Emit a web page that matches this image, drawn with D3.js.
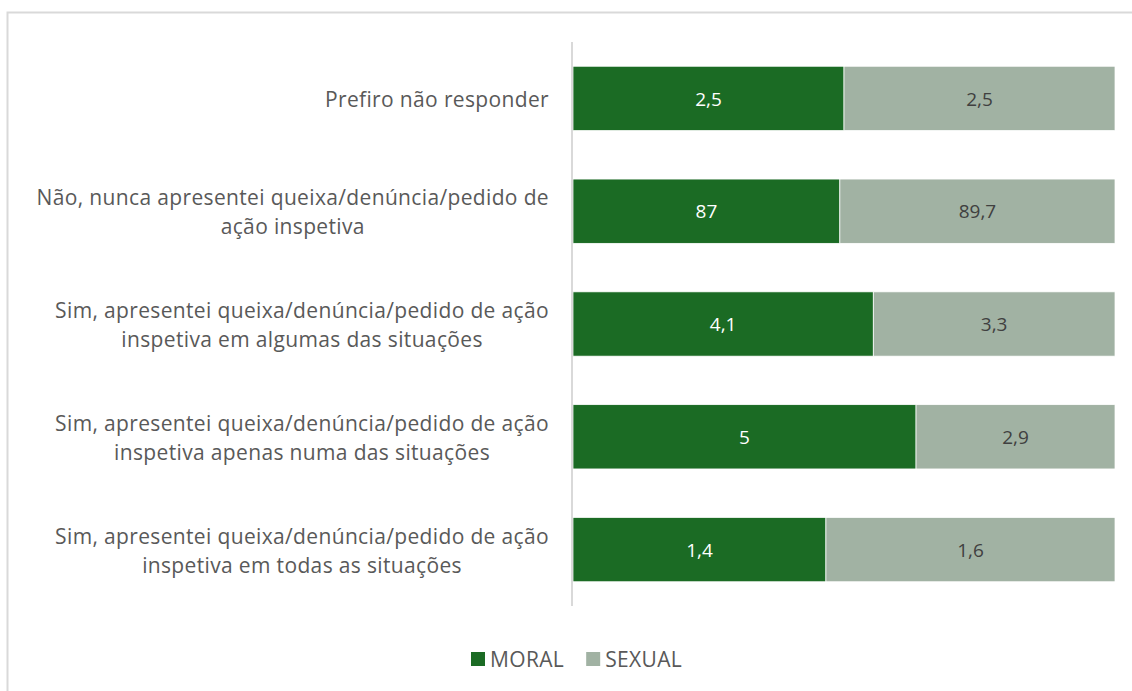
<!DOCTYPE html>
<html>
<head>
<meta charset="utf-8">
<script src="https://cdn.jsdelivr.net/npm/d3@7"></script>
<style>
  body { margin: 0; background: #fff; }
  text { font-family: "Open Sans", Roboto, sans-serif; }
</style>
</head>
<body>
<div id="chart"></div>
<script>
// categories, top to bottom, already split in lines like the original
const categories = [
  ["Prefiro não responder"],
  ["Não, nunca apresentei queixa/denúncia/pedido de", "ação inspetiva"],
  ["Sim, apresentei queixa/denúncia/pedido de ação", "inspetiva em algumas das situações"],
  ["Sim, apresentei queixa/denúncia/pedido de ação", "inspetiva apenas numa das situações"],
  ["Sim, apresentei queixa/denúncia/pedido de ação", "inspetiva em todas as situações"]
];
const seriesNames = ["MORAL", "SEXUAL"];
const moral = [2.5, 87, 4.1, 5, 1.4];
const sexual = [2.5, 89.7, 3.3, 2.9, 1.6];
const colors = ["#1b6b24", "#a1b2a3"];
const labelColors = ["#ffffff", "#404040"];

const width = 1132, height = 691;
const margin = { top: 42, right: 17, bottom: 85, left: 573 };
const plotBottom = 606;

const svg = d3.select("#chart").append("svg")
    .attr("width", width)
    .attr("height", height);

// outer chart frame (runs off right/bottom edge like the screenshot)
svg.append("rect")
    .attr("x", 7.5).attr("y", 12.5)
    .attr("width", width + 10).attr("height", height + 10)
    .attr("fill", "none")
    .attr("stroke", "#d9d9d9")
    .attr("stroke-width", 2);

const rows = categories.map((c, i) => ({ i, cat: c, MORAL: moral[i], SEXUAL: sexual[i] }));

const stack = d3.stack().keys(seriesNames).offset(d3.stackOffsetExpand);
const layers = stack(rows);

const x = d3.scaleLinear().domain([0, 1]).range([margin.left, width - margin.right]);
const y = d3.scaleBand()
    .domain(rows.map(d => d.i))
    .range([margin.top, plotBottom])
    .paddingInner(0.43)
    .paddingOuter(0.215);

// bars
const g = svg.append("g");
layers.forEach((layer, k) => {
    const lg = g.append("g");
    lg.selectAll("rect")
        .data(layer)
        .join("rect")
        .attr("x", d => x(d[0]))
        .attr("y", d => y(d.data.i))
        .attr("width", d => x(d[1]) - x(d[0]))
        .attr("height", y.bandwidth())
        .attr("fill", colors[k])
        .attr("stroke", "#fff")
        .attr("stroke-width", 0.75);
    lg.selectAll("text")
        .data(layer)
        .join("text")
        .attr("x", d => (x(d[0]) + x(d[1])) / 2)
        .attr("y", d => y(d.data.i) + y.bandwidth() / 2)
        .attr("dy", "0.38em")
        .attr("text-anchor", "middle")
        .attr("fill", labelColors[k])
        .style("font-size", "19px")
        .text(d => String(d.data[seriesNames[k]]).replace(".", ","));
});

// vertical category axis
const yAxis = d3.axisLeft(y).tickSize(0).tickFormat("");
const ax = svg.append("g")
    .attr("transform", `translate(${margin.left - 1},0)`)
    .call(yAxis);
ax.select(".domain")
    .attr("d", `M0,${margin.top}V${plotBottom}`)
    .attr("stroke", "#d9d9d9")
    .attr("stroke-width", 2);

// category labels: block right-aligned, lines centred within the block
const labelRight = margin.left - 24;
const lineH = 29;
const lab = svg.append("g")
    .style("font-size", "21px")
    .style("letter-spacing", "0.35px")
    .attr("fill", "#595959");
rows.forEach(d => {
    const t = lab.append("text").attr("text-anchor", "middle");
    const cy = y(d.i) + y.bandwidth() / 2;
    const n = d.cat.length;
    d.cat.forEach((line, j) => {
        t.append("tspan")
            .attr("y", cy + (j - (n - 1) / 2) * lineH)
            .attr("dy", "0.4em")
            .text(line);
    });
    let maxW = 0;
    t.selectAll("tspan").each(function() {
        maxW = Math.max(maxW, this.getComputedTextLength());
    });
    t.selectAll("tspan").attr("x", labelRight - maxW / 2);
});

// legend
const legend = svg.append("g")
    .style("font-size", "21px")
    .style("letter-spacing", "0.35px");
let lx = 471;
seriesNames.forEach((name, k) => {
    legend.append("rect")
        .attr("x", lx).attr("y", 652)
        .attr("width", 14).attr("height", 14)
        .attr("fill", colors[k]);
    const t = legend.append("text")
        .attr("x", lx + 19).attr("y", 659)
        .attr("dy", "0.38em")
        .attr("fill", "#595959")
        .text(name);
    lx += 19 + t.node().getComputedTextLength() + 22;
});
</script>
</body>
</html>
